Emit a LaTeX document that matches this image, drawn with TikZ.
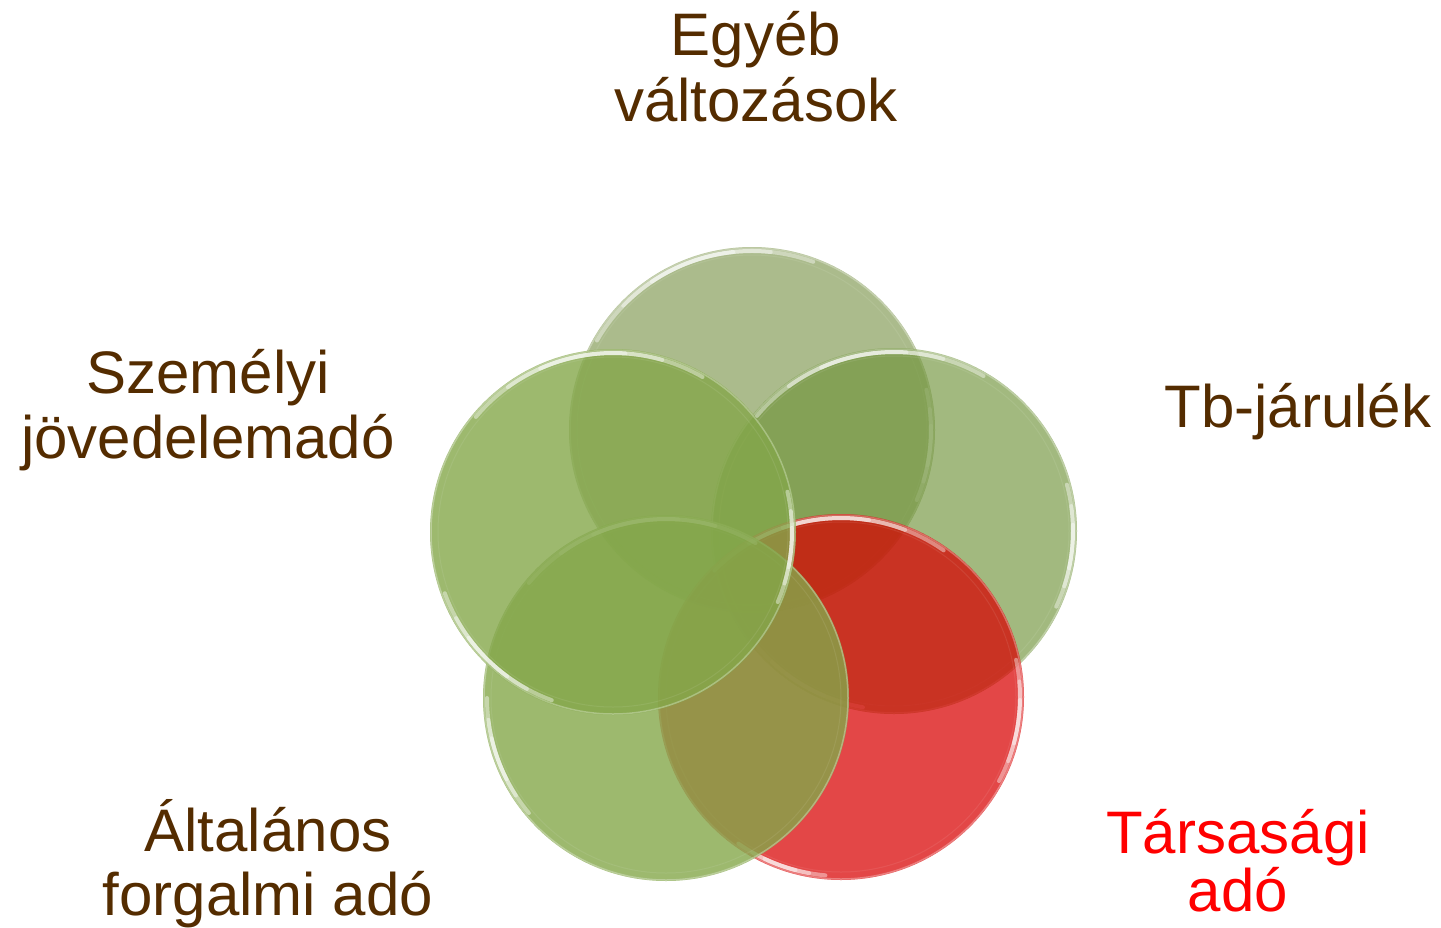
\documentclass[tikz,border=0pt]{standalone}
\usepackage{fontspec}
\setmainfont{Liberation Sans}
\definecolor{txtbrown}{RGB}{84,44,0}
\definecolor{txtred}{RGB}{255,0,0}
\definecolor{ctop}{RGB}{126,151,78}
\definecolor{cright}{RGB}{112,148,58}
\definecolor{cgreen}{RGB}{132,167,74}
\definecolor{cred}{RGB}{216,0,0}
\newcommand{\glint}[3]{%
  \foreach \f in {1,0.65,0.35}{%
    \pgfmathsetmacro{\gA}{#2-#3*\f}%
    \pgfmathsetmacro{\gB}{#2+#3*\f}%
    \draw[gleam] (#1) ++(\gA:179pt) arc[start angle=\gA, end angle=\gB, radius=179pt];
  }}
\newcommand{\glassdisc}[3]{%
  \fill[#2, fill opacity=#3] (#1) circle[radius=183pt];
  \draw[rim] (#1) circle[radius=182pt];
  \draw[innerrim] (#1) circle[radius=175pt];
}
\begin{document}
\begin{tikzpicture}[x=1pt,y=-1pt,
  lbl/.style={font=\fontsize{60}{65}\selectfont, text=txtbrown, align=center, inner sep=0pt, anchor=base},
  rim/.style={draw=white, line width=1.5pt, draw opacity=0.3},
  innerrim/.style={draw=white, line width=1pt, draw opacity=0.08},
  gleam/.style={draw=white, line width=4pt, draw opacity=0.42, line cap=round}]
\useasboundingbox (0,0) rectangle (1441,927);

\coordinate (ctop) at (752,430);
\coordinate (cright) at (894,531);
\coordinate (cred) at (841,697);
\coordinate (cbl) at (666,698);
\coordinate (cleft) at (613,532);

% discs, back to front
\glassdisc{ctop}{ctop}{0.65}
\glint{ctop}{110}{40}
\glint{ctop}{-5}{18}
\glassdisc{cright}{cright}{0.65}
\glint{cright}{100}{40}
\glint{cright}{-5}{20}
\glint{cright}{240}{20}
\glassdisc{cred}{cred}{0.72}
\glint{cred}{95}{40}
\glint{cred}{-8}{20}
\glint{cred}{250}{15}
\glassdisc{cbl}{cgreen}{0.8}
\glint{cbl}{100}{40}
\glint{cbl}{200}{20}
\glassdisc{cleft}{cgreen}{0.8}
\glint{cleft}{100}{40}
\glint{cleft}{225}{25}
\glint{cleft}{-5}{18}

% labels (anchor base = baseline of last line)
\node[lbl, font=\fontsize{60}{66}\selectfont] (egyeb) at (756,121) {Egyéb\\változások};
\node[lbl] (szja) at (208,458) {Személyi\\jövedelemadó};
\node[lbl] (tb) at (1298,427) {Tb-járulék};
\node[lbl, font=\fontsize{60}{64}\selectfont] (afa) at (268,915) {Általános\\forgalmi adó};
\node[lbl, text=txtred, font=\fontsize{60}{58}\selectfont] (tao) at (1238,911) {Társasági\\adó};
\end{tikzpicture}
\end{document}
